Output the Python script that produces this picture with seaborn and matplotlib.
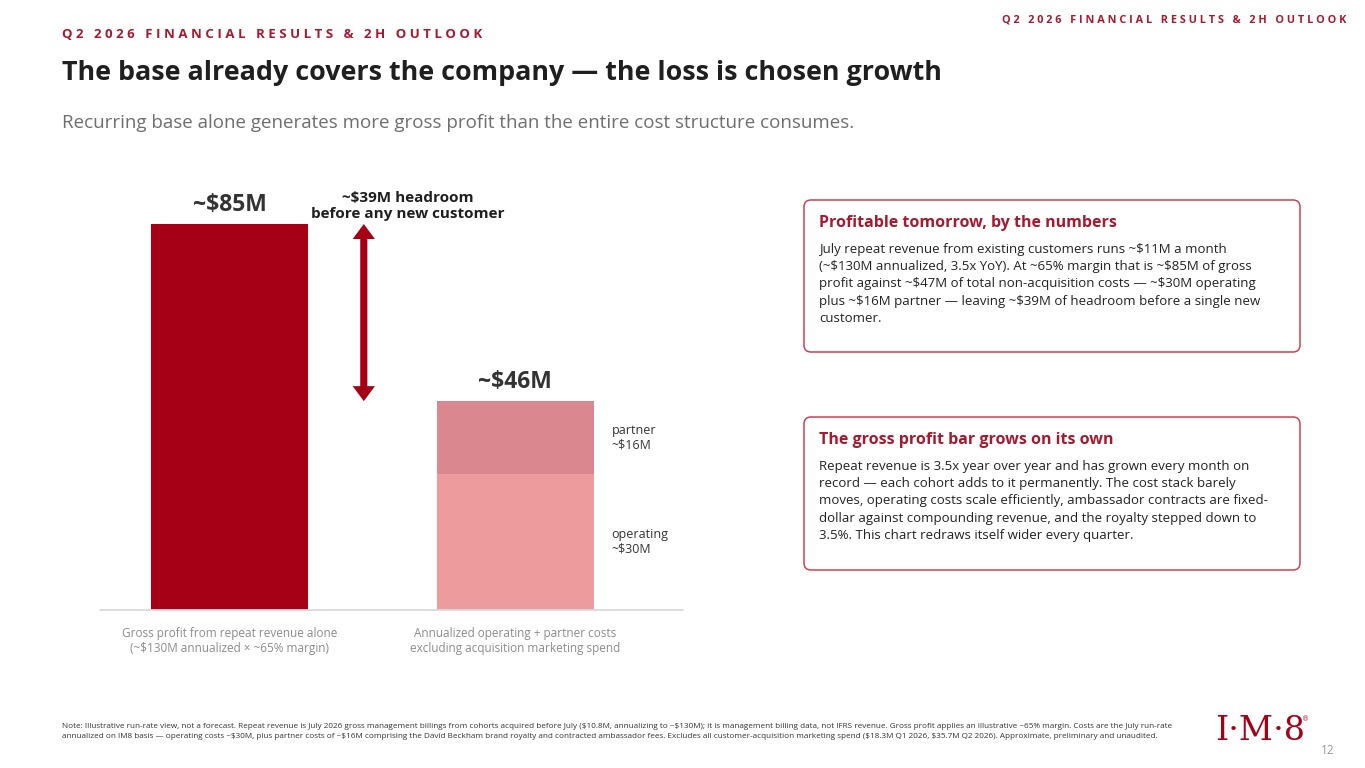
import pandas as pd
import seaborn as sns
import matplotlib.pyplot as plt
from matplotlib.patches import FancyBboxPatch, Polygon

# Data
categories = ["Gross profit from repeat revenue alone\n(~$130M annualized \u00d7 ~65% margin)",
              "Annualized operating + partner costs\nexcluding acquisition marketing spend"]
gross_profit = 85
operating_cost = 30
partner_cost = 16
value_labels = ["~$85M", "~$46M"]
segment_labels = ["operating\n~$30M", "partner\n~$16M"]
headroom_label = "~$39M headroom\nbefore any new customer"

header = "Q2 2026 FINANCIAL RESULTS & 2H OUTLOOK"
title = "The base already covers the company \u2014 the loss is chosen growth"
subtitle = "Recurring base alone generates more gross profit than the entire cost structure consumes."

box1_title = "Profitable tomorrow, by the numbers"
box1_lines = [
    "July repeat revenue from existing customers runs ~$11M a month",
    "(~$130M annualized, 3.5x YoY). At ~65% margin that is ~$85M of gross",
    "profit against ~$47M of total non-acquisition costs \u2014 ~$30M operating",
    "plus ~$16M partner \u2014 leaving ~$39M of headroom before a single new",
    "customer.",
]
box2_title = "The gross profit bar grows on its own"
box2_lines = [
    "Repeat revenue is 3.5x year over year and has grown every month on",
    "record \u2014 each cohort adds to it permanently. The cost stack barely",
    "moves, operating costs scale efficiently, ambassador contracts are fixed-",
    "dollar against compounding revenue, and the royalty stepped down to",
    "3.5%. This chart redraws itself wider every quarter.",
]
footnote_lines = [
    "Note: Illustrative run-rate view, not a forecast. Repeat revenue is July 2026 gross management billings from cohorts acquired before July ($10.8M, annualizing to ~$130M); "
    "it is management billing data, not IFRS revenue. Gross profit applies an illustrative ~65% margin. Costs are the July run-rate",
    "annualized on IM8 basis \u2014 operating costs ~$30M, plus partner costs of ~$16M comprising the David Beckham brand royalty and contracted ambassador fees. "
    "Excludes all customer-acquisition marketing spend ($18.3M Q1 2026, $35.7M Q2 2026). Approximate, preliminary and unaudited.",
]
page_number = "12"

# Colours
RED = "#A50016"
HEADER_RED = "#A6192E"
PARTNER = "#D9888F"
OPERATING = "#EC9C9D"
BORDER = "#C94451"
DARK = "#1F1F1F"
GREY = "#6E6E6E"

sns.set_style("white")
plt.rcParams["font.family"] = ["Open Sans", "DejaVu Sans"]
plt.rcParams["text.parse_math"] = False

W, H = 1365, 768
fig = plt.figure(figsize=(W / 100, H / 100), dpi=100)
fig.patch.set_facecolor("white")


def fx(x):
    return x / W


def fy(y):
    return 1 - y / H


def spaced(s):
    return "   ".join(" ".join(word) for word in s.split(" "))


# --- chart ---
ax = fig.add_axes([fx(100), fy(610), fx(683) - fx(100), fy(180) - fy(610)])

totals = pd.DataFrame({"category": categories,
                       "value": [gross_profit, operating_cost + partner_cost]})
sns.barplot(data=totals, x="category", y="value", hue="category", order=categories,
            palette=[RED, PARTNER], width=0.55, saturation=1, errorbar=None,
            linewidth=0, legend=False, ax=ax)
base = pd.DataFrame({"category": categories[1:], "value": [operating_cost]})
sns.barplot(data=base, x="category", y="value", order=categories, color=OPERATING,
            width=0.55, saturation=1, errorbar=None, linewidth=0, ax=ax)

ax.set_xlim(-0.454, 1.588)
ax.set_ylim(0, 94.7)
ax.set_xlabel("")
ax.set_ylabel("")
ax.set_yticks([])
sns.despine(ax=ax, left=True, bottom=True)
ax.axhline(0, color="#DADADA", lw=1.3, clip_on=False)
ax.tick_params(axis="x", length=0, pad=12, labelsize=8.5, labelcolor="#8C8C8C")
for lab in ax.get_xticklabels():
    lab.set_linespacing(1.2)

for i, (v, lab) in enumerate(zip(totals["value"], value_labels)):
    ax.annotate(lab, (i, v), xytext=(0, 5), textcoords="offset points", ha="center",
                va="bottom", fontsize=16.5, fontweight="bold", color="#333333")

seg_mid = [operating_cost / 2, operating_cost + partner_cost / 2]
for m, lab in zip(seg_mid, segment_labels):
    ax.annotate(lab, (1 + 0.275, m), xytext=(13, 0), textcoords="offset points",
                ha="left", va="center", fontsize=9, color="#333333", linespacing=1.15)

# headroom double arrow from the cost total up to the gross profit
total_cost = operating_cost + partner_cost
ax_x, w, hw, hl = 0.47, 0.0125, 0.039, 3.3
top, bot = gross_profit, total_cost
arrow = [(ax_x, top), (ax_x + hw, top - hl), (ax_x + w, top - hl), (ax_x + w, bot + hl),
         (ax_x + hw, bot + hl), (ax_x, bot), (ax_x - hw, bot + hl), (ax_x - w, bot + hl),
         (ax_x - w, top - hl), (ax_x - hw, top - hl)]
ax.add_patch(Polygon(arrow, closed=True, fc=RED, ec="none"))
fig.text(fx(408), fy(206), headroom_label, ha="center", va="center", fontsize=11,
         fontweight="bold", color=DARK, linespacing=1.1)

# --- header ---
fig.text(fx(62), fy(34), spaced(header), ha="left", va="center", fontsize=9.5,
         fontweight="bold", color=HEADER_RED)
fig.text(fx(1346), fy(20), spaced(header), ha="right", va="center", fontsize=7.8,
         fontweight="bold", color=HEADER_RED)
fig.text(fx(62), fy(73), title, ha="left", va="center", fontsize=19.4,
         fontweight="bold", color=DARK)
fig.text(fx(62), fy(123), subtitle, ha="left", va="center", fontsize=13.5, color=GREY)


# --- side boxes ---
def draw_box(y0, y1, head, lines):
    fig.add_artist(FancyBboxPatch((804, H - y1), 1300 - 804, y1 - y0,
                                  boxstyle="round,pad=0,rounding_size=7", transform=None,
                                  fc="white", ec=BORDER, lw=1.1))
    fig.text(fx(819), fy(y0 + 23), head, ha="left", va="center", fontsize=11.5,
             fontweight="bold", color=HEADER_RED)
    fig.text(fx(819), fy(y0 + 43), "\n".join(lines), ha="left", va="top", fontsize=9.5,
             color="#222222", linespacing=1.42)


draw_box(200, 352, box1_title, box1_lines)
draw_box(417, 570, box2_title, box2_lines)

# --- footer ---
fig.text(fx(62), fy(731), "\n".join(footnote_lines), ha="left", va="center",
         fontsize=5.85, color="#333333", linespacing=1.6)
fig.text(fx(1260), fy(731), "I\u00b7M\u00b78", ha="center", va="center", fontsize=24,
         family="DejaVu Serif", color=RED)
fig.text(fx(1306), fy(719), "\u00ae", ha="center", va="center", fontsize=5,
         family="DejaVu Serif", color=RED)
fig.text(fx(1328), fy(750), page_number, ha="center", va="center", fontsize=8.5, color="#9A9A9A")

fig.savefig("out.png", dpi=100)
